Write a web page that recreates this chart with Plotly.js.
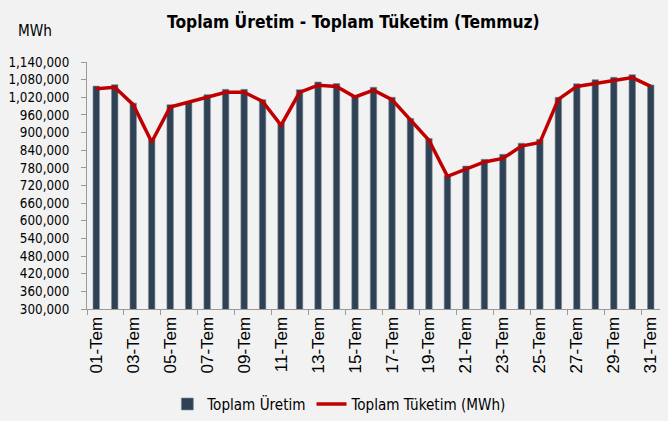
<!DOCTYPE html>
<html>
<head>
<meta charset="utf-8">
<script src="https://cdn.plot.ly/plotly-3.0.1.min.js"></script>
<style>
  html, body { margin: 0; padding: 0; background: #f2f2f2; }
  #chart { width: 668px; height: 421px; }
</style>
</head>
<body>
<div id="chart"></div>
<script>
const days = ["01-Tem","02-Tem","03-Tem","04-Tem","05-Tem","06-Tem","07-Tem","08-Tem","09-Tem","10-Tem",
  "11-Tem","12-Tem","13-Tem","14-Tem","15-Tem","16-Tem","17-Tem","18-Tem","19-Tem","20-Tem",
  "21-Tem","22-Tem","23-Tem","24-Tem","25-Tem","26-Tem","27-Tem","28-Tem","29-Tem","30-Tem","31-Tem"];

const uretim = [1058000,1063000,1000000,877000,995000,1003000,1029000,1047000,1047000,1012000,
  933000,1046000,1072000,1067000,1025000,1054000,1020000,948000,880000,755000,
  786000,809000,826000,864000,877000,1020000,1066000,1080000,1088000,1097000,1062000];

const tuketim = [1049000,1054000,995000,868000,987000,1003000,1020000,1037000,1037000,1006000,
  925000,1037000,1061000,1057000,1021000,1044000,1012000,941000,874000,751000,
  777000,800000,812000,854000,866000,1013000,1057000,1068000,1077000,1087000,1057000];

const seriesNames = ["Toplam Üretim", "Toplam Tüketim (MWh)"];
const titleText = "Toplam Üretim - Toplam Tüketim (Temmuz)";
const unitText = "MWh";

// ---- font helpers (pick an installed condensed face, size it to the reference's text widths)
const ctx = document.createElement("canvas").getContext("2d");
function fontAvailable(f) {
  const s = "mmmmmmmmmmlli1,0WÜTeket";
  for (const g of ["monospace", "serif"]) {
    ctx.font = "40px " + g;
    const w0 = ctx.measureText(s).width;
    ctx.font = '40px "' + f + '", ' + g;
    const w1 = ctx.measureText(s).width;
    if (Math.abs(w0 - w1) > 0.01) return true;
  }
  return false;
}
const condensedCandidates = ["Liberation Sans Narrow", "Arial Narrow", "DejaVu Sans Condensed",
  "Roboto Condensed", "Noto Sans Condensed", "Open Sans Condensed", "Roboto", "Liberation Sans"];
const narrowFamily = condensedCandidates.find(fontAvailable) || "sans-serif";
function fitSize(family, bold, text, target) {
  ctx.font = (bold ? "bold " : "") + '100px "' + family + '"';
  const w = ctx.measureText(text).width;
  return Math.round(100 * target / w * 10) / 10;
}
const narrow = '"' + narrowFamily + '", sans-serif';
const titleSize = fitSize(narrowFamily, true, titleText, 373);
const ytickSize = fitSize(narrowFamily, false, "1,140,000", 61);
const unitSize = fitSize(narrowFamily, false, unitText, 34);
const legendSize = fitSize(narrowFamily, false, seriesNames[0], 98);

const traces = [
  {
    type: "bar",
    x: days,
    y: uretim,
    name: seriesNames[0],
    marker: { color: "#2e4155", line: { color: "#7f8c99", width: 0.6 } },
    hoverinfo: "x+y"
  },
  {
    type: "scatter",
    mode: "lines",
    x: days,
    y: tuketim,
    name: seriesNames[1],
    line: { color: "#c00000", width: 3.5 },
    hoverinfo: "x+y"
  }
];

const layout = {
  width: 668,
  height: 421,
  paper_bgcolor: "#f2f2f2",
  plot_bgcolor: "#f2f2f2",
  margin: { l: 87, r: 8, t: 62, b: 112, autoexpand: false },
  bargap: 0.65,
  showlegend: true,
  title: {
    text: "<b>" + titleText + "</b>",
    font: { family: narrow, size: titleSize, color: "#000" },
    xref: "container", x: 0.529, xanchor: "center",
    yref: "container", y: 0.948, yanchor: "middle"
  },
  xaxis: {
    type: "category",
    automargin: false,
    range: [-0.5, 30.5],
    tickmode: "linear", tick0: 0, dtick: 2,
    tickson: "boundaries",
    ticks: "outside", ticklen: 5, tickcolor: "#9a9a9a",
    showline: true, linecolor: "#9a9a9a", linewidth: 1,
    showgrid: false, zeroline: false,
    tickangle: -90,
    tickfont: { family: "Liberation Sans, Arial, sans-serif", size: 17, color: "#000" }
  },
  yaxis: {
    automargin: false,
    range: [300000, 1140000],
    tickmode: "linear", tick0: 300000, dtick: 60000,
    tickformat: ",",
    ticks: "outside", ticklen: 5, tickcolor: "#9a9a9a",
    ticklabelstandoff: 9,
    showline: true, linecolor: "#9a9a9a", linewidth: 1,
    showgrid: false, zeroline: false,
    tickfont: { family: narrow, size: ytickSize, color: "#000" }
  },
  legend: {
    orientation: "h",
    xref: "container", yref: "container",
    x: 0.508, xanchor: "center",
    y: 0.040, yanchor: "middle",
    font: { family: narrow, size: legendSize, color: "#000" },
    bgcolor: "rgba(0,0,0,0)"
  },
  annotations: [
    {
      text: unitText, showarrow: false,
      xref: "paper", yref: "paper",
      x: -0.0908, y: 1.1275, xanchor: "center", yanchor: "middle",
      font: { family: narrow, size: unitSize, color: "#000" }
    }
  ]
};

Plotly.newPlot("chart", traces, layout, { displayModeBar: false, staticPlot: true });
</script>
</body>
</html>
